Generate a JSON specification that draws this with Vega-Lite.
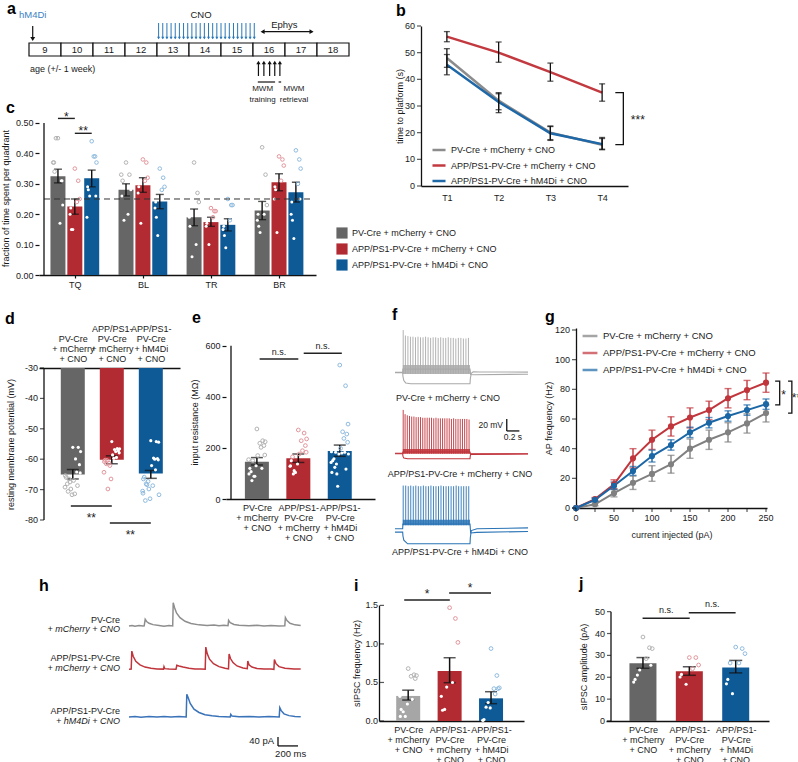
{
"$schema":"https://vega.github.io/schema/vega-lite/v6.json",
"padding":{"left":1,"top":1,"right":1,"bottom":1},
"config":{"font":"Liberation Sans","view":{"stroke":null},
"axis":{"labelFontSize":9,"labelColor":"#1a1a1a","titleFontSize":9,"titleFontWeight":"normal","titleColor":"#1a1a1a","domainColor":"#111111","domainWidth":1.3,"tickColor":"#111111","tickWidth":1.2,"tickSize":4,"grid":false,"labelPadding":2,"titlePadding":5,"labelFlush":false,"labelOverlap":false,"labelLineHeight":10},
"legend":{"labelFontSize":9,"labelColor":"#1a1a1a","labelLimit":300,"padding":0},
"text":{"fontSize":9,"color":"#1a1a1a"}},
"datasets":{
"aweek":[{"age":9},{"age":10},{"age":11},{"age":12},{"age":13},{"age":14},{"age":15},{"age":16},{"age":17},{"age":18}],
"cno":[{"age":12.55},{"age":12.68},{"age":12.81},{"age":12.94},{"age":13.07},{"age":13.2},{"age":13.33},{"age":13.46},{"age":13.59},{"age":13.72},{"age":13.85},{"age":13.98},{"age":14.11},{"age":14.24},{"age":14.37},{"age":14.5},{"age":14.63},{"age":14.76},{"age":14.89},{"age":15.02},{"age":15.15},{"age":15.28},{"age":15.41},{"age":15.54}],
"mwm":[{"age":15.67},{"age":15.84},{"age":16.02},{"age":16.18},{"age":16.34}],
"atext":[{"x":8.616,"y":3.45,"t":"hM4Di","s":9.5},{"x":13.875,"y":3.45,"t":"CNO","s":9.5},{"x":16.48,"y":2.45,"t":"Ephys","s":9.5},{"x":15.8,"y":-3.98,"t":"MWM","s":8},{"x":15.8,"y":-5.02,"t":"training","s":8},{"x":16.78,"y":-3.98,"t":"MWM","s":8},{"x":16.78,"y":-5.02,"t":"retrieval","s":8}],
"cbar":[{"k":"TQ-WT","q":"TQ","g":"WT","m":0.325,"lo":0.303,"hi":0.348},{"k":"TQ-AD","q":"TQ","g":"AD","m":0.225,"lo":0.2,"hi":0.25},{"k":"TQ-ADi","q":"TQ","g":"ADi","m":0.318,"lo":0.29,"hi":0.345},{"k":"BL-WT","q":"BL","g":"WT","m":0.28,"lo":0.26,"hi":0.3},{"k":"BL-AD","q":"BL","g":"AD","m":0.295,"lo":0.272,"hi":0.32},{"k":"BL-ADi","q":"BL","g":"ADi","m":0.242,"lo":0.218,"hi":0.265},{"k":"TR-WT","q":"TR","g":"WT","m":0.19,"lo":0.162,"hi":0.217},{"k":"TR-AD","q":"TR","g":"AD","m":0.174,"lo":0.16,"hi":0.19},{"k":"TR-ADi","q":"TR","g":"ADi","m":0.165,"lo":0.145,"hi":0.185},{"k":"BR-WT","q":"BR","g":"WT","m":0.212,"lo":0.182,"hi":0.242},{"k":"BR-AD","q":"BR","g":"AD","m":0.305,"lo":0.277,"hi":0.333},{"k":"BR-ADi","q":"BR","g":"ADi","m":0.272,"lo":0.24,"hi":0.305}],
"cdot":[{"k":"TQ-WT","v":0.45},{"k":"TQ-WT","v":0.37},{"k":"TQ-WT","v":0.31},{"k":"TQ-WT","v":0.45},{"k":"TQ-WT","v":0.23},{"k":"TQ-WT","v":0.37},{"k":"TQ-WT","v":0.17},{"k":"TQ-WT","v":0.34},{"k":"TQ-WT","v":0.31},
{"k":"TQ-AD","v":0.35},{"k":"TQ-AD","v":0.22},{"k":"TQ-AD","v":0.31},{"k":"TQ-AD","v":0.15},{"k":"TQ-AD","v":0.25},{"k":"TQ-AD","v":0.2},{"k":"TQ-AD","v":0.24},{"k":"TQ-AD","v":0.15},
{"k":"TQ-ADi","v":0.44},{"k":"TQ-ADi","v":0.29},{"k":"TQ-ADi","v":0.39},{"k":"TQ-ADi","v":0.26},{"k":"TQ-ADi","v":0.37},{"k":"TQ-ADi","v":0.19},{"k":"TQ-ADi","v":0.39},{"k":"TQ-ADi","v":0.28},{"k":"TQ-ADi","v":0.26},
{"k":"BL-WT","v":0.37},{"k":"BL-WT","v":0.26},{"k":"BL-WT","v":0.33},{"k":"BL-WT","v":0.18},{"k":"BL-WT","v":0.28},{"k":"BL-WT","v":0.33},{"k":"BL-WT","v":0.2},{"k":"BL-WT","v":0.31},
{"k":"BL-AD","v":0.38},{"k":"BL-AD","v":0.29},{"k":"BL-AD","v":0.37},{"k":"BL-AD","v":0.17},{"k":"BL-AD","v":0.32},{"k":"BL-AD","v":0.27},{"k":"BL-AD","v":0.31},
{"k":"BL-ADi","v":0.35},{"k":"BL-ADi","v":0.24},{"k":"BL-ADi","v":0.32},{"k":"BL-ADi","v":0.13},{"k":"BL-ADi","v":0.29},{"k":"BL-ADi","v":0.22},{"k":"BL-ADi","v":0.28},{"k":"BL-ADi","v":0.19},
{"k":"TR-WT","v":0.37},{"k":"TR-WT","v":0.16},{"k":"TR-WT","v":0.27},{"k":"TR-WT","v":0.06},{"k":"TR-WT","v":0.24},{"k":"TR-WT","v":0.19},{"k":"TR-WT","v":0.1},
{"k":"TR-AD","v":0.22},{"k":"TR-AD","v":0.17},{"k":"TR-AD","v":0.21},{"k":"TR-AD","v":0.1},{"k":"TR-AD","v":0.21},{"k":"TR-AD","v":0.16},{"k":"TR-AD","v":0.19},
{"k":"TR-ADi","v":0.25},{"k":"TR-ADi","v":0.16},{"k":"TR-ADi","v":0.23},{"k":"TR-ADi","v":0.09},{"k":"TR-ADi","v":0.23},{"k":"TR-ADi","v":0.15},{"k":"TR-ADi","v":0.18},{"k":"TR-ADi","v":0.13},
{"k":"BR-WT","v":0.42},{"k":"BR-WT","v":0.2},{"k":"BR-WT","v":0.33},{"k":"BR-WT","v":0.14},{"k":"BR-WT","v":0.23},{"k":"BR-WT","v":0.18},{"k":"BR-WT","v":0.2},{"k":"BR-WT","v":0.16},
{"k":"BR-AD","v":0.39},{"k":"BR-AD","v":0.29},{"k":"BR-AD","v":0.38},{"k":"BR-AD","v":0.14},{"k":"BR-AD","v":0.36},{"k":"BR-AD","v":0.25},{"k":"BR-AD","v":0.31},{"k":"BR-AD","v":0.28},
{"k":"BR-ADi","v":0.41},{"k":"BR-ADi","v":0.24},{"k":"BR-ADi","v":0.38},{"k":"BR-ADi","v":0.12},{"k":"BR-ADi","v":0.35},{"k":"BR-ADi","v":0.2},{"k":"BR-ADi","v":0.3},{"k":"BR-ADi","v":0.18},{"k":"BR-ADi","v":0.25}],
"csig":[{"x1":0.252,"x2":0.5,"y":0.515,"ty":0.531,"lab":"*"},{"x1":0.5,"x2":0.748,"y":0.466,"ty":0.483,"lab":"**"}],
"bdat":[{"g":"WT","trial":1,"m":48,"lo":44.5,"hi":51.5},{"g":"WT","trial":2,"m":32,"lo":28.6,"hi":35},{"g":"WT","trial":3,"m":20,"lo":17.4,"hi":22.5},{"g":"WT","trial":4,"m":15.5,"lo":13.6,"hi":17.8},
{"g":"AD","trial":1,"m":56,"lo":54.1,"hi":57.9},{"g":"AD","trial":2,"m":50,"lo":46.4,"hi":54},{"g":"AD","trial":3,"m":42.7,"lo":39.3,"hi":46.1},{"g":"AD","trial":4,"m":35,"lo":31.8,"hi":38.3},
{"g":"ADi","trial":1,"m":45.5,"lo":41.7,"hi":49.3},{"g":"ADi","trial":2,"m":31.5,"lo":27.5,"hi":34.6},{"g":"ADi","trial":3,"m":19.8,"lo":17.1,"hi":22.3},{"g":"ADi","trial":4,"m":15.7,"lo":13.8,"hi":18.2}],
"dbar":[{"g":"WT","m":-65,"lo":-66.5,"hi":-63.4},{"g":"AD","m":-60.2,"lo":-61.5,"hi":-58.9},{"g":"ADi","m":-64.7,"lo":-66.3,"hi":-63.7}],
"ddot":[{"g":"WT","v":-56.1},{"g":"WT","v":-66},{"g":"WT","v":-56.1},{"g":"WT","v":-67.5},{"g":"WT","v":-57.5},{"g":"WT","v":-69.2},{"g":"WT","v":-59.9},{"g":"WT","v":-70.6},{"g":"WT","v":-61.8},{"g":"WT","v":-71.7},{"g":"WT","v":-64.2},{"g":"WT","v":-65.4},{"g":"WT","v":-64.5},{"g":"WT","v":-66.5},{"g":"WT","v":-67},{"g":"WT","v":-68.1},{"g":"WT","v":-68.7},{"g":"WT","v":-69.8},{"g":"WT","v":-71.4},
{"g":"AD","v":-54.2},{"g":"AD","v":-60.3},{"g":"AD","v":-56.5},{"g":"AD","v":-61.3},{"g":"AD","v":-56.6},{"g":"AD","v":-64.3},{"g":"AD","v":-56.8},{"g":"AD","v":-60.4},{"g":"AD","v":-57.2},{"g":"AD","v":-66.5},{"g":"AD","v":-57.5},{"g":"AD","v":-60.8},{"g":"AD","v":-57.9},{"g":"AD","v":-69.8},{"g":"AD","v":-58.6},{"g":"AD","v":-61.5},{"g":"AD","v":-59.4},{"g":"AD","v":-62.1},{"g":"AD","v":-59.7},
{"g":"ADi","v":-53.9},{"g":"ADi","v":-65.9},{"g":"ADi","v":-54.2},{"g":"ADi","v":-67.3},{"g":"ADi","v":-54.4},{"g":"ADi","v":-71.2},{"g":"ADi","v":-59.6},{"g":"ADi","v":-68.1},{"g":"ADi","v":-59.8},{"g":"ADi","v":-73},{"g":"ADi","v":-60},{"g":"ADi","v":-66.5},{"g":"ADi","v":-60.2},{"g":"ADi","v":-68.4},{"g":"ADi","v":-62.1},{"g":"ADi","v":-73.6},{"g":"ADi","v":-63.5},{"g":"ADi","v":-69.8},{"g":"ADi","v":-68.7},{"g":"ADi","v":-70.5},{"g":"ADi","v":-71.7}],
"dsig":[{"x1":0.95,"x2":2,"y":-75.4,"ty":-78.4,"lab":"**"},{"x1":1.95,"x2":3,"y":-81,"ty":-84,"lab":"**"}],
"ebar":[{"g":"WT","m":146,"lo":133,"hi":162},{"g":"AD","m":159,"lo":143,"hi":176},{"g":"ADi","m":188,"lo":167,"hi":211}],
"edot":[{"g":"WT","v":274},{"g":"WT","v":120},{"g":"WT","v":228},{"g":"WT","v":89},{"g":"WT","v":224},{"g":"WT","v":154},{"g":"WT","v":218},{"g":"WT","v":72},{"g":"WT","v":209},{"g":"WT","v":130},{"g":"WT","v":202},{"g":"WT","v":98},{"g":"WT","v":172},{"g":"WT","v":150},{"g":"WT","v":170},{"g":"WT","v":107},{"g":"WT","v":120},{"g":"WT","v":89},
{"g":"AD","v":270},{"g":"AD","v":150},{"g":"AD","v":258},{"g":"AD","v":104},{"g":"AD","v":235},{"g":"AD","v":128},{"g":"AD","v":228},{"g":"AD","v":98},{"g":"AD","v":209},{"g":"AD","v":137},{"g":"AD","v":189},{"g":"AD","v":130},{"g":"AD","v":183},{"g":"AD","v":111},{"g":"AD","v":176},{"g":"AD","v":165},
{"g":"ADi","v":524},{"g":"ADi","v":150},{"g":"ADi","v":443},{"g":"ADi","v":98},{"g":"ADi","v":293},{"g":"ADi","v":185},{"g":"ADi","v":263},{"g":"ADi","v":124},{"g":"ADi","v":254},{"g":"ADi","v":176},{"g":"ADi","v":237},{"g":"ADi","v":104},{"g":"ADi","v":222},{"g":"ADi","v":183},{"g":"ADi","v":198},{"g":"ADi","v":157},{"g":"ADi","v":183},{"g":"ADi","v":50},{"g":"ADi","v":180},{"g":"ADi","v":143},{"g":"ADi","v":176},{"g":"ADi","v":137},{"g":"ADi","v":117}],
"esig":[{"x1":1.066,"x2":2.0,"y":548,"ty":577,"lab":"n.s."},{"x1":2.13,"x2":3.05,"y":570,"ty":597,"lab":"n.s."}],
"fband":[{"g":"WT","t0":0.125,"t1":1.19,"lo":-2,"hi":13},{"g":"AD","t0":0.125,"t1":1.19,"lo":0,"hi":8},{"g":"ADi","t0":0.125,"t1":1.19,"lo":6,"hi":15}],
"fsp":[{"g":"WT","t":0.13,"hi":71},{"g":"WT","t":0.165,"hi":62},{"g":"WT","t":0.205,"hi":61},{"g":"WT","t":0.245,"hi":60},{"g":"WT","t":0.285,"hi":60},{"g":"WT","t":0.325,"hi":59},{"g":"WT","t":0.365,"hi":60},{"g":"WT","t":0.405,"hi":59},{"g":"WT","t":0.445,"hi":59},{"g":"WT","t":0.485,"hi":60},{"g":"WT","t":0.525,"hi":59},{"g":"WT","t":0.565,"hi":58},{"g":"WT","t":0.605,"hi":59},{"g":"WT","t":0.645,"hi":59},{"g":"WT","t":0.685,"hi":58},{"g":"WT","t":0.725,"hi":59},{"g":"WT","t":0.765,"hi":58},{"g":"WT","t":0.805,"hi":58},{"g":"WT","t":0.845,"hi":59},{"g":"WT","t":0.885,"hi":58},{"g":"WT","t":0.925,"hi":58},{"g":"WT","t":0.965,"hi":57},{"g":"WT","t":1.005,"hi":58},{"g":"WT","t":1.045,"hi":58},{"g":"WT","t":1.085,"hi":57},{"g":"WT","t":1.125,"hi":57},{"g":"WT","t":1.165,"hi":58},
{"g":"AD","t":0.13,"hi":73},{"g":"AD","t":0.16,"hi":66},{"g":"AD","t":0.195,"hi":64},{"g":"AD","t":0.23,"hi":63},{"g":"AD","t":0.265,"hi":62},{"g":"AD","t":0.3,"hi":62},{"g":"AD","t":0.335,"hi":61},{"g":"AD","t":0.37,"hi":61},{"g":"AD","t":0.405,"hi":61},{"g":"AD","t":0.44,"hi":60},{"g":"AD","t":0.475,"hi":60},{"g":"AD","t":0.51,"hi":60},{"g":"AD","t":0.545,"hi":60},{"g":"AD","t":0.58,"hi":60},{"g":"AD","t":0.615,"hi":59},{"g":"AD","t":0.65,"hi":60},{"g":"AD","t":0.685,"hi":59},{"g":"AD","t":0.72,"hi":59},{"g":"AD","t":0.755,"hi":59},{"g":"AD","t":0.79,"hi":59},{"g":"AD","t":0.825,"hi":59},{"g":"AD","t":0.86,"hi":59},{"g":"AD","t":0.895,"hi":58},{"g":"AD","t":0.93,"hi":59},{"g":"AD","t":0.965,"hi":58},{"g":"AD","t":1.0,"hi":58},{"g":"AD","t":1.035,"hi":58},{"g":"AD","t":1.07,"hi":58},{"g":"AD","t":1.105,"hi":58},{"g":"AD","t":1.14,"hi":58},{"g":"AD","t":1.175,"hi":57},
{"g":"ADi","t":0.13,"hi":72},{"g":"ADi","t":0.17,"hi":72},{"g":"ADi","t":0.21,"hi":71},{"g":"ADi","t":0.25,"hi":72},{"g":"ADi","t":0.29,"hi":71},{"g":"ADi","t":0.33,"hi":72},{"g":"ADi","t":0.37,"hi":71},{"g":"ADi","t":0.41,"hi":71},{"g":"ADi","t":0.45,"hi":72},{"g":"ADi","t":0.49,"hi":71},{"g":"ADi","t":0.53,"hi":71},{"g":"ADi","t":0.57,"hi":72},{"g":"ADi","t":0.61,"hi":71},{"g":"ADi","t":0.65,"hi":71},{"g":"ADi","t":0.69,"hi":71},{"g":"ADi","t":0.73,"hi":72},{"g":"ADi","t":0.77,"hi":71},{"g":"ADi","t":0.81,"hi":71},{"g":"ADi","t":0.85,"hi":71},{"g":"ADi","t":0.89,"hi":71},{"g":"ADi","t":0.93,"hi":71},{"g":"ADi","t":0.97,"hi":72},{"g":"ADi","t":1.01,"hi":71},{"g":"ADi","t":1.05,"hi":71},{"g":"ADi","t":1.09,"hi":71},{"g":"ADi","t":1.13,"hi":71},{"g":"ADi","t":1.17,"hi":71}],
"ftr":[{"g":"WT","id":"WT-h","t":0,"v":0},{"g":"WT","id":"WT-h","t":0.122,"v":0},{"g":"WT","id":"WT-h","t":0.126,"v":-6},{"g":"WT","id":"WT-h","t":0.14,"v":-13},{"g":"WT","id":"WT-h","t":0.17,"v":-17},{"g":"WT","id":"WT-h","t":0.25,"v":-18.3},{"g":"WT","id":"WT-h","t":1.19,"v":-18.3},{"g":"WT","id":"WT-h","t":1.195,"v":-10},{"g":"WT","id":"WT-h","t":1.21,"v":-1},{"g":"WT","id":"WT-h","t":1.24,"v":1.5},{"g":"WT","id":"WT-h","t":1.35,"v":1.2},{"g":"WT","id":"WT-h","t":2.11,"v":1},
{"g":"WT","id":"WT-d","t":0,"v":0.5},{"g":"WT","id":"WT-d","t":0.122,"v":0.5},{"g":"WT","id":"WT-d","t":0.125,"v":6},{"g":"WT","id":"WT-d","t":1.19,"v":6},{"g":"WT","id":"WT-d","t":1.2,"v":-3},{"g":"WT","id":"WT-d","t":1.25,"v":-3.3},{"g":"WT","id":"WT-d","t":2.11,"v":-2.5},
{"g":"AD","id":"AD-h","t":0,"v":0},{"g":"AD","id":"AD-h","t":0.122,"v":0},{"g":"AD","id":"AD-h","t":0.126,"v":-4},{"g":"AD","id":"AD-h","t":0.14,"v":-7},{"g":"AD","id":"AD-h","t":0.2,"v":-8.3},{"g":"AD","id":"AD-h","t":1.19,"v":-8.3},{"g":"AD","id":"AD-h","t":1.195,"v":-3},{"g":"AD","id":"AD-h","t":1.21,"v":0},{"g":"AD","id":"AD-h","t":2.11,"v":0},
{"g":"AD","id":"AD-d","t":0,"v":0.8},{"g":"AD","id":"AD-d","t":0.122,"v":0.8},{"g":"AD","id":"AD-d","t":0.125,"v":3},{"g":"AD","id":"AD-d","t":1.19,"v":3},{"g":"AD","id":"AD-d","t":1.2,"v":-1},{"g":"AD","id":"AD-d","t":2.11,"v":-0.5},
{"g":"ADi","id":"ADi-h","t":0,"v":-5.5},{"g":"ADi","id":"ADi-h","t":0.122,"v":-5.5},{"g":"ADi","id":"ADi-h","t":0.126,"v":-12},{"g":"ADi","id":"ADi-h","t":0.14,"v":-19},{"g":"ADi","id":"ADi-h","t":0.2,"v":-25},{"g":"ADi","id":"ADi-h","t":1.19,"v":-25},{"g":"ADi","id":"ADi-h","t":1.195,"v":-15},{"g":"ADi","id":"ADi-h","t":1.21,"v":-3},{"g":"ADi","id":"ADi-h","t":1.3,"v":0},{"g":"ADi","id":"ADi-h","t":2.11,"v":1.5},
{"g":"ADi","id":"ADi-d","t":0,"v":0},{"g":"ADi","id":"ADi-d","t":0.122,"v":0},{"g":"ADi","id":"ADi-d","t":0.125,"v":8},{"g":"ADi","id":"ADi-d","t":1.19,"v":8},{"g":"ADi","id":"ADi-d","t":1.2,"v":-7},{"g":"ADi","id":"ADi-d","t":1.3,"v":-6},{"g":"ADi","id":"ADi-d","t":2.11,"v":-4.5}],
"ftext":[{"t":0.84,"y":-42,"lab":"PV-Cre + mCherry + CNO"},{"t":1.03,"y":-168,"lab":"APP/PS1-PV-Cre + mCherry + CNO"},{"t":1.03,"y":-298,"lab":"APP/PS1-PV-Cre + hM4Di + CNO"}],
"gdat":[{"g":"WT","x":0,"m":0,"lo":0,"hi":0},{"g":"WT","x":25,"m":2.5,"lo":1.5,"hi":3.5},{"g":"WT","x":50,"m":10,"lo":7.5,"hi":12.5},{"g":"WT","x":75,"m":17,"lo":12.5,"hi":21.5},{"g":"WT","x":100,"m":23,"lo":18,"hi":28.5},{"g":"WT","x":125,"m":29.5,"lo":23.5,"hi":35.5},{"g":"WT","x":150,"m":40,"lo":33.5,"hi":46.5},{"g":"WT","x":175,"m":46,"lo":39.5,"hi":52.5},{"g":"WT","x":200,"m":51,"lo":44.5,"hi":57.5},{"g":"WT","x":225,"m":57,"lo":50.5,"hi":63.5},{"g":"WT","x":250,"m":64,"lo":58,"hi":69.5},
{"g":"AD","x":0,"m":0,"lo":0,"hi":0},{"g":"AD","x":25,"m":6,"lo":5,"hi":7},{"g":"AD","x":50,"m":16,"lo":13,"hi":19},{"g":"AD","x":75,"m":33.5,"lo":27,"hi":40},{"g":"AD","x":100,"m":46,"lo":39.5,"hi":52.5},{"g":"AD","x":125,"m":55,"lo":48.5,"hi":61.5},{"g":"AD","x":150,"m":61,"lo":54,"hi":67.5},{"g":"AD","x":175,"m":66,"lo":59.5,"hi":72},{"g":"AD","x":200,"m":74,"lo":67.5,"hi":80.5},{"g":"AD","x":225,"m":79.5,"lo":73,"hi":86},{"g":"AD","x":250,"m":84.5,"lo":78,"hi":91},
{"g":"ADi","x":0,"m":0,"lo":0,"hi":0},{"g":"ADi","x":25,"m":5.5,"lo":4.5,"hi":6.5},{"g":"ADi","x":50,"m":15,"lo":12.5,"hi":17.5},{"g":"ADi","x":75,"m":25,"lo":22,"hi":28},{"g":"ADi","x":100,"m":35,"lo":31,"hi":39},{"g":"ADi","x":125,"m":42.5,"lo":39,"hi":46},{"g":"ADi","x":150,"m":51,"lo":47.5,"hi":54.5},{"g":"ADi","x":175,"m":57.5,"lo":54,"hi":61},{"g":"ADi","x":200,"m":62,"lo":58.5,"hi":65.5},{"g":"ADi","x":225,"m":66,"lo":62.5,"hi":69.5},{"g":"ADi","x":250,"m":70,"lo":66.5,"hi":73.5}],
"gbr":[{"id":1,"o":1,"x":262,"y":85.5},{"id":1,"o":2,"x":268,"y":85.5},{"id":1,"o":3,"x":268,"y":69.5},{"id":1,"o":4,"x":262,"y":69.5},{"id":2,"o":1,"x":279,"y":85.5},{"id":2,"o":2,"x":284,"y":85.5},{"id":2,"o":3,"x":284,"y":64},{"id":2,"o":4,"x":279,"y":64}],
"htr":[{"g":"WT","t":0,"a":0},{"g":"WT","t":30,"a":2},{"g":"WT","t":60,"a":-1},{"g":"WT","t":100,"a":2},{"g":"WT","t":140,"a":0},{"g":"WT","t":152,"a":1},{"g":"WT","t":162,"a":30},{"g":"WT","t":176,"a":20},{"g":"WT","t":200,"a":12},{"g":"WT","t":240,"a":6},{"g":"WT","t":300,"a":2},{"g":"WT","t":350,"a":-1},{"g":"WT","t":400,"a":2},{"g":"WT","t":437,"a":0},{"g":"WT","t":442,"a":103},{"g":"WT","t":455,"a":82},{"g":"WT","t":475,"a":58},{"g":"WT","t":510,"a":37},{"g":"WT","t":560,"a":21},{"g":"WT","t":620,"a":11},{"g":"WT","t":700,"a":5},{"g":"WT","t":780,"a":2},{"g":"WT","t":850,"a":4},{"g":"WT","t":900,"a":1},{"g":"WT","t":950,"a":3},{"g":"WT","t":990,"a":1},{"g":"WT","t":996,"a":25},{"g":"WT","t":1012,"a":15},{"g":"WT","t":1050,"a":7},{"g":"WT","t":1100,"a":3},{"g":"WT","t":1200,"a":1},{"g":"WT","t":1280,"a":3},{"g":"WT","t":1350,"a":0},{"g":"WT","t":1420,"a":2},{"g":"WT","t":1500,"a":0},{"g":"WT","t":1558,"a":1},{"g":"WT","t":1564,"a":37},{"g":"WT","t":1580,"a":24},{"g":"WT","t":1610,"a":12},{"g":"WT","t":1660,"a":5},{"g":"WT","t":1717,"a":2},
{"g":"AD","t":0,"a":0},{"g":"AD","t":22,"a":1},{"g":"AD","t":28,"a":81},{"g":"AD","t":42,"a":58},{"g":"AD","t":68,"a":36},{"g":"AD","t":110,"a":20},{"g":"AD","t":160,"a":10},{"g":"AD","t":220,"a":5},{"g":"AD","t":280,"a":2},{"g":"AD","t":345,"a":1},{"g":"AD","t":350,"a":12},{"g":"AD","t":358,"a":3},{"g":"AD","t":400,"a":1},{"g":"AD","t":470,"a":0},{"g":"AD","t":478,"a":18},{"g":"AD","t":500,"a":15},{"g":"AD","t":540,"a":10},{"g":"AD","t":600,"a":5},{"g":"AD","t":660,"a":2},{"g":"AD","t":720,"a":1},{"g":"AD","t":762,"a":0},{"g":"AD","t":768,"a":99},{"g":"AD","t":782,"a":70},{"g":"AD","t":805,"a":45},{"g":"AD","t":845,"a":25},{"g":"AD","t":900,"a":12},{"g":"AD","t":960,"a":5},{"g":"AD","t":995,"a":2},{"g":"AD","t":1001,"a":68},{"g":"AD","t":1015,"a":48},{"g":"AD","t":1040,"a":30},{"g":"AD","t":1080,"a":15},{"g":"AD","t":1140,"a":6},{"g":"AD","t":1183,"a":3},{"g":"AD","t":1188,"a":37},{"g":"AD","t":1200,"a":20},{"g":"AD","t":1230,"a":10},{"g":"AD","t":1280,"a":4},{"g":"AD","t":1350,"a":2},{"g":"AD","t":1420,"a":1},{"g":"AD","t":1449,"a":0},{"g":"AD","t":1454,"a":44},{"g":"AD","t":1470,"a":25},{"g":"AD","t":1500,"a":12},{"g":"AD","t":1560,"a":5},{"g":"AD","t":1650,"a":2},{"g":"AD","t":1717,"a":1},
{"g":"ADi","t":0,"a":0},{"g":"ADi","t":60,"a":2},{"g":"ADi","t":120,"a":-1},{"g":"ADi","t":200,"a":2},{"g":"ADi","t":280,"a":0},{"g":"ADi","t":350,"a":2},{"g":"ADi","t":420,"a":0},{"g":"ADi","t":500,"a":2},{"g":"ADi","t":572,"a":0},{"g":"ADi","t":578,"a":101},{"g":"ADi","t":592,"a":85},{"g":"ADi","t":612,"a":60},{"g":"ADi","t":650,"a":35},{"g":"ADi","t":700,"a":20},{"g":"ADi","t":760,"a":10},{"g":"ADi","t":830,"a":5},{"g":"ADi","t":900,"a":2},{"g":"ADi","t":960,"a":1},{"g":"ADi","t":1012,"a":0},{"g":"ADi","t":1018,"a":12},{"g":"ADi","t":1030,"a":4},{"g":"ADi","t":1100,"a":1},{"g":"ADi","t":1200,"a":2},{"g":"ADi","t":1300,"a":0},{"g":"ADi","t":1400,"a":2},{"g":"ADi","t":1502,"a":0},{"g":"ADi","t":1508,"a":41},{"g":"ADi","t":1522,"a":28},{"g":"ADi","t":1550,"a":14},{"g":"ADi","t":1600,"a":6},{"g":"ADi","t":1660,"a":2},{"g":"ADi","t":1717,"a":1}],
"hlab":[{"ln":1,"y":25,"t":"PV-Cre"},{"ln":2,"y":-15,"t":"+ mCherry + CNO"},{"ln":1,"y":-141,"t":"APP/PS1-PV-Cre"},{"ln":2,"y":-185,"t":"+ mCherry + CNO"},{"ln":1,"y":-378,"t":"APP/PS1-PV-Cre"},{"ln":2,"y":-422,"t":"+ hM4Di + CNO"}],
"ibar":[{"g":"WT","m":0.325,"lo":0.272,"hi":0.4},{"g":"AD","m":0.648,"lo":0.497,"hi":0.821},{"g":"ADi","m":0.294,"lo":0.225,"hi":0.38}],
"idot":[{"g":"WT","v":0.68},{"g":"WT","v":0.15},{"g":"WT","v":0.6},{"g":"WT","v":0.06},{"g":"WT","v":0.59},{"g":"WT","v":0.32},{"g":"WT","v":0.58},{"g":"WT","v":0.12},{"g":"WT","v":0.55},{"g":"WT","v":0.22},{"g":"WT","v":0.28},{"g":"WT","v":0.06},
{"g":"AD","v":1.47},{"g":"AD","v":0.14},{"g":"AD","v":1.33},{"g":"AD","v":0.44},{"g":"AD","v":1.02},{"g":"AD","v":0.32},{"g":"AD","v":0.5},{"g":"AD","v":0.15},
{"g":"ADi","v":0.94},{"g":"ADi","v":0.02},{"g":"ADi","v":0.59},{"g":"ADi","v":0.24},{"g":"ADi","v":0.43},{"g":"ADi","v":0.01},{"g":"ADi","v":0.42},{"g":"ADi","v":0.18},{"g":"ADi","v":0.42},{"g":"ADi","v":0.17},{"g":"ADi","v":0.35},{"g":"ADi","v":0.01}],
"isig":[{"x1":0.904,"x2":2.005,"y":1.57,"ty":1.69,"lab":"*"},{"x1":1.989,"x2":3.0,"y":1.66,"ty":1.76,"lab":"*"}],
"jbar":[{"g":"WT","m":26.4,"lo":24.1,"hi":29},{"g":"AD","m":22.7,"lo":20.9,"hi":24.8},{"g":"ADi","m":24.5,"lo":22,"hi":27.7}],
"jdot":[{"g":"WT","v":38.4},{"g":"WT","v":19},{"g":"WT","v":33.5},{"g":"WT","v":23.3},{"g":"WT","v":33.1},{"g":"WT","v":17.8},{"g":"WT","v":28.5},{"g":"WT","v":21},{"g":"WT","v":25.5},
{"g":"AD","v":29},{"g":"AD","v":21.3},{"g":"AD","v":29},{"g":"AD","v":16.8},{"g":"AD","v":25.6},{"g":"AD","v":20.1},{"g":"AD","v":23.9},
{"g":"ADi","v":33.8},{"g":"ADi","v":19},{"g":"ADi","v":33.1},{"g":"ADi","v":12.5},{"g":"ADi","v":30.8},{"g":"ADi","v":17},{"g":"ADi","v":26.5},{"g":"ADi","v":26.5}],
"jsig":[{"x1":0.992,"x2":2.008,"y":47,"ty":50.8,"lab":"n.s."},{"x1":1.988,"x2":2.998,"y":49.5,"ty":53.3,"lab":"n.s."}],
"bticks":[{"v":0},{"v":10},{"v":20},{"v":30},{"v":40},{"v":50},{"v":60}],
"dticks":[{"v":-80},{"v":-70},{"v":-60},{"v":-50},{"v":-40},{"v":-30}],
"gyticks":[{"v":0},{"v":20},{"v":40},{"v":60},{"v":80},{"v":100},{"v":120}],
"gxticks":[{"v":0},{"v":25},{"v":50},{"v":75},{"v":100},{"v":125},{"v":150},{"v":175},{"v":200},{"v":225},{"v":250}],
"iticks":[{"v":0},{"v":0.5},{"v":1},{"v":1.5}],
"jticks":[{"v":0},{"v":10},{"v":20},{"v":30},{"v":40},{"v":50}]
},
"spacing":18,
"resolve":{"scale":{"color":"independent","stroke":"independent"},"legend":{"color":"independent","stroke":"independent"}},
"vconcat":[
{"spacing":0,"bounds":"flush","resolve":{"scale":{"color":"independent","stroke":"independent"},"legend":{"color":"independent","stroke":"independent"}},
"hconcat":[
{"width":277,"height":249,
"resolve":{"scale":{"x":"independent","y":"independent"},"axis":{"x":"independent","y":"independent"}},
"layer":[
{"layer":[
{"data":{"name":"cbar"},"transform":[{"calculate":"indexof(['TQ','BL','TR','BR'],datum.q)+0.5+(datum.g=='WT'?-0.248:datum.g=='AD'?0:0.248)","as":"p"}],
"mark":{"type":"bar","size":15,"orient":"vertical"},
"encoding":{"x":{"field":"p","type":"quantitative","scale":{"domain":[0.047,3.97],"nice":false,"zero":false},"axis":{"values":[0.5,1.5,2.5,3.5],"labelExpr":"['TQ','BL','TR','BR'][floor(datum.value)]","title":null,"tickSize":3,"labelOverlap":false}},
"y":{"field":"m","type":"quantitative","stack":null,"scale":{"domain":[0,0.819],"nice":false,"zero":false},"axis":{"values":[0,0.1,0.2,0.3,0.4,0.5],"format":".2f","title":"fraction of time spent per quadrant","titleY":172,"domain":false,"labelOverlap":false}},
"color":{"field":"g","type":"nominal","scale":{"domain":["WT","AD","ADi"],"range":["#666666","#b22b32","#0d5a97"]},"legend":{"orient":"none","legendX":297,"legendY":201,"title":null,"symbolType":"square","symbolSize":125,"symbolStrokeWidth":0,"rowPadding":4,"labelExpr":"datum.label=='WT'?'PV-Cre + mCherry + CNO':datum.label=='AD'?'APP/PS1-PV-Cre + mCherry + CNO':'APP/PS1-PV-Cre + hM4Di + CNO'"}}}},
{"data":{"name":"cbar"},"transform":[{"calculate":"indexof(['TQ','BL','TR','BR'],datum.q)+0.5+(datum.g=='WT'?-0.248:datum.g=='AD'?0:0.248)","as":"p"}],
"mark":{"type":"rule","color":"#111111","strokeWidth":1.4},"encoding":{"x":{"field":"p","type":"quantitative"},"y":{"field":"lo","type":"quantitative"},"y2":{"field":"hi"}}},
{"data":{"name":"cbar"},"transform":[{"calculate":"indexof(['TQ','BL','TR','BR'],datum.q)+0.5+(datum.g=='WT'?-0.248:datum.g=='AD'?0:0.248)","as":"p"},{"fold":["lo","hi"],"as":["w","e"]}],
"mark":{"type":"tick","orient":"horizontal","color":"#111111","size":8,"thickness":1.4},"encoding":{"x":{"field":"p","type":"quantitative"},"y":{"field":"e","type":"quantitative"}}},
{"data":{"name":"cdot"},"transform":[{"lookup":"k","from":{"data":{"name":"cbar"},"key":"k","fields":["q","g","m"]}},{"window":[{"op":"row_number","as":"r"}],"groupby":["k"]},{"calculate":"indexof(['TQ','BL','TR','BR'],datum.q)+0.5+(datum.g=='WT'?-0.248:datum.g=='AD'?0:0.248)+[0,-0.06,0.05,-0.03,0.07,-0.07,0.03,-0.05,0.06,-0.015][(datum.r-1)%10]","as":"p"},{"filter":"datum.v>datum.m"}],
"mark":{"type":"point","shape":"circle","filled":false,"strokeWidth":1,"size":13,"opacity":1},
"encoding":{"x":{"field":"p","type":"quantitative"},"y":{"field":"v","type":"quantitative"},"stroke":{"field":"g","type":"nominal","scale":{"domain":["WT","AD","ADi"],"range":["#b3b3b3","#e3959c","#8fbbdf"]},"legend":null}}},
{"data":{"name":"cdot"},"transform":[{"lookup":"k","from":{"data":{"name":"cbar"},"key":"k","fields":["q","g","m"]}},{"window":[{"op":"row_number","as":"r"}],"groupby":["k"]},{"calculate":"indexof(['TQ','BL','TR','BR'],datum.q)+0.5+(datum.g=='WT'?-0.248:datum.g=='AD'?0:0.248)+[0,-0.06,0.05,-0.03,0.07,-0.07,0.03,-0.05,0.06,-0.015][(datum.r-1)%10]","as":"p"},{"filter":"datum.v<=datum.m"}],
"mark":{"type":"circle","color":"white","size":9,"opacity":1},
"encoding":{"x":{"field":"p","type":"quantitative"},"y":{"field":"v","type":"quantitative"}}},
{"data":{"values":[{"chance":0.25,"a":0.047,"b":3.97}]},"mark":{"type":"rule","strokeDash":[6,4],"color":"#333333","strokeWidth":1},"encoding":{"y":{"field":"chance","type":"quantitative"},"x":{"field":"a","type":"quantitative"},"x2":{"field":"b"}}},
{"data":{"values":[{"x":0.047,"lo":0,"hi":0.5}]},"mark":{"type":"rule","color":"#111111","strokeWidth":1.3},"encoding":{"x":{"field":"x","type":"quantitative"},"y":{"field":"lo","type":"quantitative"},"y2":{"field":"hi"}}},
{"data":{"name":"csig"},"mark":{"type":"rule","color":"#222222","strokeWidth":1.4},"encoding":{"x":{"field":"x1","type":"quantitative"},"x2":{"field":"x2"},"y":{"field":"y","type":"quantitative"}}},
{"data":{"name":"csig"},"transform":[{"calculate":"(datum.x1+datum.x2)/2","as":"mx"}],"mark":{"type":"text","fontSize":12,"baseline":"middle","dy":3},"encoding":{"x":{"field":"mx","type":"quantitative"},"y":{"field":"ty","type":"quantitative"},"text":{"field":"lab"}}}
]},
{"layer":[
{"data":{"name":"aweek"},"transform":[{"calculate":"datum.age-0.5","as":"a0"},{"calculate":"datum.age+0.5","as":"a1"}],"mark":{"type":"rect","fill":"white","stroke":"#111111","strokeWidth":1.2},
"encoding":{"x":{"field":"a0","type":"quantitative","scale":{"domain":[8.8125,17.46875],"nice":false,"zero":false},"axis":null},"x2":{"field":"a1"},"y":{"datum":0.65,"type":"quantitative","scale":{"domain":[-22.55,2.35],"nice":false,"zero":false},"axis":null},"y2":{"datum":-0.65}}},
{"data":{"name":"aweek"},"mark":{"type":"text","fontSize":9.5,"baseline":"middle"},"encoding":{"x":{"field":"age","type":"quantitative","axis":null},"y":{"datum":0,"type":"quantitative","axis":null},"text":{"field":"age"}}},
{"data":{"name":"cno"},"mark":{"type":"rule","color":"#2a78b8","strokeWidth":1},"encoding":{"x":{"field":"age","type":"quantitative","axis":null},"y":{"datum":2.65,"type":"quantitative","axis":null},"y2":{"datum":1.1}}},
{"data":{"name":"cno"},"mark":{"type":"point","shape":"triangle-down","filled":true,"size":10,"color":"#2a78b8","opacity":1},"encoding":{"x":{"field":"age","type":"quantitative","axis":null},"y":{"datum":1.15,"type":"quantitative","axis":null}}},
{"data":{"values":[{"age":8.616}]},"mark":{"type":"rule","color":"#111111","strokeWidth":1.2},"encoding":{"x":{"field":"age","type":"quantitative","axis":null},"y":{"datum":2.35,"type":"quantitative","axis":null},"y2":{"datum":1.1}}},
{"data":{"values":[{"age":8.616}]},"mark":{"type":"point","shape":"triangle-down","filled":true,"size":24,"color":"#111111","opacity":1},"encoding":{"x":{"field":"age","type":"quantitative","axis":null},"y":{"datum":1.05,"type":"quantitative","axis":null}}},
{"data":{"values":[{"a0":15.78,"a1":17.35}]},"mark":{"type":"rule","color":"#111111","strokeWidth":1.2},"encoding":{"x":{"field":"a0","type":"quantitative","axis":null},"x2":{"field":"a1"},"y":{"datum":1.78,"type":"quantitative","axis":null}}},
{"data":{"values":[{"age":15.8,"d":"triangle-left"},{"age":17.33,"d":"triangle-right"}]},"mark":{"type":"point","filled":true,"size":22,"color":"#111111","opacity":1},"encoding":{"x":{"field":"age","type":"quantitative","axis":null},"y":{"datum":1.78,"type":"quantitative","axis":null},"shape":{"field":"d","type":"nominal","scale":null}}},
{"data":{"name":"mwm"},"mark":{"type":"rule","color":"#111111","strokeWidth":1.2},"encoding":{"x":{"field":"age","type":"quantitative","axis":null},"y":{"datum":-2.65,"type":"quantitative","axis":null},"y2":{"datum":-1.35}}},
{"data":{"name":"mwm"},"mark":{"type":"point","shape":"triangle-up","filled":true,"size":18,"color":"#111111","opacity":1},"encoding":{"x":{"field":"age","type":"quantitative","axis":null},"y":{"datum":-1.3,"type":"quantitative","axis":null}}},
{"data":{"values":[{"a0":15.65,"a1":16.19},{"a0":16.3,"a1":16.38}]},"mark":{"type":"rule","color":"#111111","strokeWidth":1.2},"encoding":{"x":{"field":"a0","type":"quantitative","axis":null},"x2":{"field":"a1"},"y":{"datum":-3.25,"type":"quantitative","axis":null}}},
{"data":{"name":"atext"},"mark":{"type":"text","baseline":"middle"},"encoding":{"x":{"field":"x","type":"quantitative","axis":null},"y":{"field":"y","type":"quantitative","axis":null},"text":{"field":"t"},"size":{"field":"s","type":"quantitative","scale":null},"color":{"condition":{"test":"datum.t=='hM4Di'","value":"#3b82c4"},"value":"#1a1a1a"}}},
{"data":{"values":[{"t":"age (+/- 1 week)"}]},"mark":{"type":"text","fontSize":9,"baseline":"middle","align":"left"},"encoding":{"x":{"datum":8.53,"type":"quantitative","axis":null},"y":{"datum":-1.95,"type":"quantitative","axis":null},"text":{"field":"t"}}},
{"data":{"values":[{"x":7.8125,"y":3.55,"lab":"a"},{"x":7.78,"y":-6.35,"lab":"c"}]},"mark":{"type":"text","fontSize":16,"fontWeight":"bold","align":"left","baseline":"alphabetic","color":"#000000"},"encoding":{"x":{"field":"x","type":"quantitative","axis":null},"y":{"field":"y","type":"quantitative","axis":null},"text":{"field":"lab"}}}
]}
]},
{"width":105,"height":10,"data":{"values":[]},"mark":{"type":"point","opacity":0}},
{"width":207,"height":160,"resolve":{"scale":{"x":"independent","y":"independent"},"axis":{"x":"independent","y":"independent"}},"layer":[
{"layer":[
{"data":{"name":"bdat"},"mark":{"type":"line","strokeWidth":2.5},
"encoding":{"x":{"field":"trial","type":"quantitative","scale":{"domain":[0.5,4.5],"nice":false,"zero":false},"axis":{"values":[1,1.5,2,2.5,3,3.5,4,4.5],"labelExpr":"datum.value%1==0?'T'+datum.value:''","tickOpacity":{"condition":{"test":"datum.value%1==0","value":0},"value":1},"title":null,"labelPadding":3,"labelOverlap":false}},
"y":{"field":"m","type":"quantitative","scale":{"domain":[0,60],"nice":false,"zero":false},"axis":{"labels":false,"ticks":false,"title":"time to platform (s)","titlePadding":17}},
"color":{"field":"g","type":"nominal","scale":{"domain":["WT","AD","ADi"],"range":["#8c8c8c","#c23a40","#1f68a8"]},"legend":{"orient":"none","legendX":10,"legendY":116,"title":null,"symbolType":"stroke","symbolStrokeWidth":2.5,"symbolSize":170,"rowPadding":2.5,"labelExpr":"datum.label=='WT'?'PV-Cre + mCherry + CNO':datum.label=='AD'?'APP/PS1-PV-Cre + mCherry + CNO':'APP/PS1-PV-Cre + hM4Di + CNO'"}}}},
{"data":{"name":"bdat"},"mark":{"type":"rule","color":"#111111","strokeWidth":1.3},"encoding":{"x":{"field":"trial","type":"quantitative"},"y":{"field":"lo","type":"quantitative"},"y2":{"field":"hi"}}},
{"data":{"name":"bdat"},"transform":[{"fold":["lo","hi"],"as":["w","e"]}],"mark":{"type":"tick","orient":"horizontal","color":"#111111","size":6,"thickness":1.3},"encoding":{"x":{"field":"trial","type":"quantitative"},"y":{"field":"e","type":"quantitative"}}},
{"data":{"values":[{"x":4.255,"y":35,"o":1},{"x":4.41,"y":35,"o":2},{"x":4.41,"y":15.5,"o":3},{"x":4.255,"y":15.5,"o":4}]},"mark":{"type":"line","color":"#111111","strokeWidth":1.3},"encoding":{"x":{"field":"x","type":"quantitative"},"y":{"field":"y","type":"quantitative"},"order":{"field":"o"}}},
{"data":{"values":[{"x":4.69,"y":25.75,"lab":"***"}]},"mark":{"type":"text","fontSize":12,"baseline":"middle","dy":3},"encoding":{"x":{"field":"x","type":"quantitative"},"y":{"field":"y","type":"quantitative"},"text":{"field":"lab"}}},
{"data":{"name":"bticks"},"transform":[{"calculate":"0.5","as":"x0"}],"mark":{"type":"tick","orient":"horizontal","size":4,"thickness":1.2,"color":"#111111","xOffset":-2},"encoding":{"x":{"field":"x0","type":"quantitative"},"y":{"field":"v","type":"quantitative"}}},
{"data":{"name":"bticks"},"transform":[{"calculate":"0.5","as":"x0"}],"mark":{"type":"text","align":"right","baseline":"middle","dx":-6,"fontSize":9},"encoding":{"x":{"field":"x0","type":"quantitative"},"y":{"field":"v","type":"quantitative"},"text":{"field":"v"}}}
]},
{"data":{"values":[{"x":-0.121,"y":1.0625,"lab":"b"}]},"mark":{"type":"text","fontSize":16,"fontWeight":"bold","align":"left","baseline":"alphabetic","color":"#000000"},"encoding":{"x":{"field":"x","type":"quantitative","scale":{"domain":[0,1],"nice":false,"zero":false},"axis":null},"y":{"field":"y","type":"quantitative","scale":{"domain":[0,1],"nice":false,"zero":false},"axis":null},"text":{"field":"lab"}}}
]}
]},
{"spacing":18,"resolve":{"scale":{"color":"independent","stroke":"independent"},"legend":{"color":"independent","stroke":"independent"}},
"vconcat":[
{"spacing":0,"bounds":"flush","resolve":{"scale":{"color":"independent","stroke":"independent"},"legend":{"color":"independent","stroke":"independent"}},
"hconcat":[
{"width":141,"height":192,"resolve":{"scale":{"x":"independent","y":"independent"},"axis":{"x":"independent","y":"independent"}},"layer":[
{"layer":[
{"data":{"name":"dbar"},"transform":[{"calculate":"indexof(['WT','AD','ADi'],datum.g)+1","as":"p"},{"calculate":"-30","as":"base"}],"mark":{"type":"bar","size":24,"orient":"vertical"},
"encoding":{"x":{"field":"p","type":"quantitative","scale":{"domain":[0.262,3.62],"nice":false,"zero":false},"axis":{"orient":"top","offset":-40,"values":[1,2,3],"labelExpr":"datum.value==1?['','PV-Cre','+ mCherry','+ CNO']:datum.value==2?['APP/PS1-','PV-Cre','+ mCherry','+ CNO']:['APP/PS1-','PV-Cre','+ hM4Di','+ CNO']","title":null,"ticks":false,"labelPadding":35,"labelOverlap":false}},
"y":{"field":"m","type":"quantitative","stack":null,"scale":{"domain":[-80,-16.84],"nice":false,"zero":false},"axis":{"labels":false,"ticks":false,"title":"resting membrane potential (mV)","titleY":116,"titlePadding":24,"domain":false}},
"y2":{"field":"base"},
"color":{"field":"g","type":"nominal","scale":{"domain":["WT","AD","ADi"],"range":["#666666","#b22b32","#0d5a97"]},"legend":null}}},
{"data":{"name":"dbar"},"transform":[{"calculate":"indexof(['WT','AD','ADi'],datum.g)+1","as":"p"}],"mark":{"type":"rule","color":"#111111","strokeWidth":1.5},"encoding":{"x":{"field":"p","type":"quantitative"},"y":{"field":"lo","type":"quantitative"},"y2":{"field":"hi"}}},
{"data":{"name":"dbar"},"transform":[{"calculate":"indexof(['WT','AD','ADi'],datum.g)+1","as":"p"},{"fold":["lo","hi"],"as":["w","e"]}],"mark":{"type":"tick","orient":"horizontal","color":"#111111","size":12,"thickness":1.5},"encoding":{"x":{"field":"p","type":"quantitative"},"y":{"field":"e","type":"quantitative"}}},
{"data":{"name":"ddot"},"transform":[{"lookup":"g","from":{"data":{"name":"dbar"},"key":"g","fields":["m"]}},{"window":[{"op":"row_number","as":"r"}],"groupby":["g"]},{"calculate":"indexof(['WT','AD','ADi'],datum.g)+1+[0,-0.17,0.14,-0.07,0.2,-0.2,0.07,-0.12,0.17,-0.02,0.1,-0.19,0.19,-0.1,0.02,-0.14,0.12,-0.05,0.05,-0.21,0.21,-0.08,0.15,-0.15][(datum.r-1)%24]","as":"p"},{"filter":"datum.v<datum.m"}],
"mark":{"type":"point","shape":"circle","filled":false,"strokeWidth":1,"size":14,"opacity":1},"encoding":{"x":{"field":"p","type":"quantitative"},"y":{"field":"v","type":"quantitative"},"stroke":{"field":"g","type":"nominal","scale":{"domain":["WT","AD","ADi"],"range":["#b3b3b3","#e3959c","#8fbbdf"]},"legend":null}}},
{"data":{"name":"ddot"},"transform":[{"lookup":"g","from":{"data":{"name":"dbar"},"key":"g","fields":["m"]}},{"window":[{"op":"row_number","as":"r"}],"groupby":["g"]},{"calculate":"indexof(['WT','AD','ADi'],datum.g)+1+[0,-0.17,0.14,-0.07,0.2,-0.2,0.07,-0.12,0.17,-0.02,0.1,-0.19,0.19,-0.1,0.02,-0.14,0.12,-0.05,0.05,-0.21,0.21,-0.08,0.15,-0.15][(datum.r-1)%24]","as":"p"},{"filter":"datum.v>=datum.m"}],
"mark":{"type":"circle","color":"white","size":10,"opacity":1},"encoding":{"x":{"field":"p","type":"quantitative"},"y":{"field":"v","type":"quantitative"}}},
{"data":{"values":[{"x":0.262,"lo":-80,"hi":-30}]},"mark":{"type":"rule","color":"#111111","strokeWidth":1.3},"encoding":{"x":{"field":"x","type":"quantitative"},"y":{"field":"lo","type":"quantitative"},"y2":{"field":"hi"}}},
{"data":{"name":"dticks"},"transform":[{"calculate":"0.262","as":"x0"}],"mark":{"type":"tick","orient":"horizontal","size":4,"thickness":1.2,"color":"#111111","xOffset":-2},"encoding":{"x":{"field":"x0","type":"quantitative"},"y":{"field":"v","type":"quantitative"}}},
{"data":{"name":"dticks"},"transform":[{"calculate":"0.262","as":"x0"}],"mark":{"type":"text","align":"right","baseline":"middle","dx":-6,"fontSize":9},"encoding":{"x":{"field":"x0","type":"quantitative"},"y":{"field":"v","type":"quantitative"},"text":{"field":"v"}}},
{"data":{"name":"dsig"},"mark":{"type":"rule","color":"#222222","strokeWidth":1.4},"encoding":{"x":{"field":"x1","type":"quantitative"},"x2":{"field":"x2"},"y":{"field":"y","type":"quantitative"}}},
{"data":{"name":"dsig"},"transform":[{"calculate":"(datum.x1+datum.x2)/2","as":"mx"}],"mark":{"type":"text","fontSize":12,"baseline":"middle","dy":3},"encoding":{"x":{"field":"mx","type":"quantitative"},"y":{"field":"ty","type":"quantitative"},"text":{"field":"lab"}}}
]},
{"data":{"values":[{"x":-0.241,"y":1.021,"lab":"d"}]},"mark":{"type":"text","fontSize":16,"fontWeight":"bold","align":"left","baseline":"alphabetic","color":"#000000"},"encoding":{"x":{"field":"x","type":"quantitative","scale":{"domain":[0,1],"nice":false,"zero":false},"axis":null},"y":{"field":"y","type":"quantitative","scale":{"domain":[0,1],"nice":false,"zero":false},"axis":null},"text":{"field":"lab"}}}
]},
{"width":46,"height":10,"data":{"values":[]},"mark":{"type":"point","opacity":0}},
{"width":149,"height":171,"resolve":{"scale":{"x":"independent","y":"independent"},"axis":{"x":"independent","y":"independent"}},"layer":[
{"layer":[
{"data":{"name":"ebar"},"transform":[{"calculate":"indexof(['WT','AD','ADi'],datum.g)+1","as":"p"}],"mark":{"type":"bar","size":24,"orient":"vertical"},
"encoding":{"x":{"field":"p","type":"quantitative","scale":{"domain":[0.375,3.73],"nice":false,"zero":false},"axis":{"values":[1,2,3],"labelExpr":"datum.value==1?['PV-Cre','+ mCherry','+ CNO']:datum.value==2?['APP/PS1-','PV-Cre','+ mCherry','+ CNO']:['APP/PS1-','PV-Cre','+ hM4Di','+ CNO']","title":null,"ticks":false,"labelPadding":4,"labelOverlap":false}},
"y":{"field":"m","type":"quantitative","stack":null,"scale":{"domain":[0,669],"nice":false,"zero":false},"axis":{"values":[0,200,400,600],"title":"input resistance (MΩ)","titleY":94,"domain":false,"labelOverlap":false}},
"color":{"field":"g","type":"nominal","scale":{"domain":["WT","AD","ADi"],"range":["#666666","#b22b32","#0d5a97"]},"legend":null}}},
{"data":{"name":"ebar"},"transform":[{"calculate":"indexof(['WT','AD','ADi'],datum.g)+1","as":"p"}],"mark":{"type":"rule","color":"#111111","strokeWidth":1.5},"encoding":{"x":{"field":"p","type":"quantitative"},"y":{"field":"lo","type":"quantitative"},"y2":{"field":"hi"}}},
{"data":{"name":"ebar"},"transform":[{"calculate":"indexof(['WT','AD','ADi'],datum.g)+1","as":"p"},{"fold":["lo","hi"],"as":["w","e"]}],"mark":{"type":"tick","orient":"horizontal","color":"#111111","size":12,"thickness":1.5},"encoding":{"x":{"field":"p","type":"quantitative"},"y":{"field":"e","type":"quantitative"}}},
{"data":{"name":"edot"},"transform":[{"lookup":"g","from":{"data":{"name":"ebar"},"key":"g","fields":["m"]}},{"window":[{"op":"row_number","as":"r"}],"groupby":["g"]},{"calculate":"indexof(['WT','AD','ADi'],datum.g)+1+[0,-0.17,0.14,-0.07,0.2,-0.2,0.07,-0.12,0.17,-0.02,0.1,-0.19,0.19,-0.1,0.02,-0.14,0.12,-0.05,0.05,-0.21,0.21,-0.08,0.15,-0.15][(datum.r-1)%24]","as":"p"},{"filter":"datum.v>datum.m"}],
"mark":{"type":"point","shape":"circle","filled":false,"strokeWidth":1,"size":14,"opacity":1},"encoding":{"x":{"field":"p","type":"quantitative"},"y":{"field":"v","type":"quantitative"},"stroke":{"field":"g","type":"nominal","scale":{"domain":["WT","AD","ADi"],"range":["#b3b3b3","#e3959c","#8fbbdf"]},"legend":null}}},
{"data":{"name":"edot"},"transform":[{"lookup":"g","from":{"data":{"name":"ebar"},"key":"g","fields":["m"]}},{"window":[{"op":"row_number","as":"r"}],"groupby":["g"]},{"calculate":"indexof(['WT','AD','ADi'],datum.g)+1+[0,-0.17,0.14,-0.07,0.2,-0.2,0.07,-0.12,0.17,-0.02,0.1,-0.19,0.19,-0.1,0.02,-0.14,0.12,-0.05,0.05,-0.21,0.21,-0.08,0.15,-0.15][(datum.r-1)%24]","as":"p"},{"filter":"datum.v<=datum.m"}],
"mark":{"type":"circle","color":"white","size":10,"opacity":1},"encoding":{"x":{"field":"p","type":"quantitative"},"y":{"field":"v","type":"quantitative"}}},
{"data":{"values":[{"x":0.375,"lo":0,"hi":600}]},"mark":{"type":"rule","color":"#111111","strokeWidth":1.3},"encoding":{"x":{"field":"x","type":"quantitative"},"y":{"field":"lo","type":"quantitative"},"y2":{"field":"hi"}}},
{"data":{"name":"esig"},"mark":{"type":"rule","color":"#222222","strokeWidth":1.4},"encoding":{"x":{"field":"x1","type":"quantitative"},"x2":{"field":"x2"},"y":{"field":"y","type":"quantitative"}}},
{"data":{"name":"esig"},"transform":[{"calculate":"(datum.x1+datum.x2)/2","as":"mx"}],"mark":{"type":"text","fontSize":9,"baseline":"middle"},"encoding":{"x":{"field":"mx","type":"quantitative"},"y":{"field":"ty","type":"quantitative"},"text":{"field":"lab"}}}
]},
{"data":{"values":[{"x":-0.228,"y":1.029,"lab":"e"}]},"mark":{"type":"text","fontSize":16,"fontWeight":"bold","align":"left","baseline":"alphabetic","color":"#000000"},"encoding":{"x":{"field":"x","type":"quantitative","scale":{"domain":[0,1],"nice":false,"zero":false},"axis":null},"y":{"field":"y","type":"quantitative","scale":{"domain":[0,1],"nice":false,"zero":false},"axis":null},"text":{"field":"lab"}}}
]},
{"width":20,"height":10,"data":{"values":[]},"mark":{"type":"point","opacity":0}},
{"width":133,"height":220,"layer":[
{"data":{"name":"fband"},"transform":[{"calculate":"datum.g=='WT'?0:datum.g=='AD'?-135:-260","as":"o"},{"calculate":"datum.lo+datum.o","as":"y0"},{"calculate":"datum.hi+datum.o","as":"y1"}],"mark":{"type":"rect","opacity":0.85},
"encoding":{"x":{"field":"t0","type":"quantitative","scale":{"domain":[0,2.11],"nice":false,"zero":false},"axis":null},"x2":{"field":"t1"},"y":{"field":"y0","type":"quantitative","scale":{"domain":[-292,74.5],"nice":false,"zero":false},"axis":null},"y2":{"field":"y1"},
"color":{"field":"g","type":"nominal","scale":{"domain":["WT","AD","ADi"],"range":["#a9a9a9","#c0323a","#2a74b5"]},"legend":null}}},
{"data":{"name":"fsp"},"transform":[{"calculate":"datum.g=='WT'?0:datum.g=='AD'?-135:-260","as":"o"},{"calculate":"(datum.g=='WT'?-2:datum.g=='AD'?0:6)+datum.o","as":"y0"},{"calculate":"datum.hi+datum.o","as":"y1"}],"mark":{"type":"rule","strokeWidth":0.9},
"encoding":{"x":{"field":"t","type":"quantitative","axis":null},"y":{"field":"y0","type":"quantitative","axis":null},"y2":{"field":"y1"},"color":{"field":"g","type":"nominal","legend":null}}},
{"data":{"name":"ftr"},"transform":[{"calculate":"datum.v+(datum.g=='WT'?0:datum.g=='AD'?-135:-260)","as":"y"}],"mark":{"type":"line","strokeWidth":1.1},
"encoding":{"x":{"field":"t","type":"quantitative","axis":null},"y":{"field":"y","type":"quantitative","axis":null},"detail":{"field":"id"},"color":{"field":"g","type":"nominal","legend":null}}},
{"data":{"values":[{"t0":1.773,"t1":1.773,"v0":-77,"v1":-97},{"t0":1.773,"t1":1.973,"v0":-97,"v1":-97}]},"mark":{"type":"rule","color":"#111111","strokeWidth":1.3},"encoding":{"x":{"field":"t0","type":"quantitative","axis":null},"x2":{"field":"t1"},"y":{"field":"v0","type":"quantitative","axis":null},"y2":{"field":"v1"}}},
{"data":{"values":[{"t":1.714,"y":-86.7,"lab":"20 mV"}]},"mark":{"type":"text","fontSize":8.5,"align":"right","baseline":"middle"},"encoding":{"x":{"field":"t","type":"quantitative","axis":null},"y":{"field":"y","type":"quantitative","axis":null},"text":{"field":"lab"}}},
{"data":{"values":[{"t":1.87,"y":-107,"lab":"0.2 s"}]},"mark":{"type":"text","fontSize":8.5,"baseline":"middle"},"encoding":{"x":{"field":"t","type":"quantitative","axis":null},"y":{"field":"y","type":"quantitative","axis":null},"text":{"field":"lab"}}},
{"data":{"name":"ftext"},"mark":{"type":"text","fontSize":9,"baseline":"middle"},"encoding":{"x":{"field":"t","type":"quantitative","axis":null},"y":{"field":"y","type":"quantitative","axis":null},"text":{"field":"lab"}}},
{"data":{"values":[{"t":-0.048,"y":87.8,"lab":"f"}]},"mark":{"type":"text","fontSize":16,"fontWeight":"bold","align":"left","baseline":"alphabetic","color":"#000000"},"encoding":{"x":{"field":"t","type":"quantitative","axis":null},"y":{"field":"y","type":"quantitative","axis":null},"text":{"field":"lab"}}}
]},
{"width":48,"height":10,"data":{"values":[]},"mark":{"type":"point","opacity":0}},
{"width":191,"height":180,"resolve":{"scale":{"x":"independent","y":"independent"},"axis":{"x":"independent","y":"independent"}},"layer":[
{"layer":[
{"data":{"name":"gdat"},"mark":{"type":"line","strokeWidth":2},
"encoding":{"x":{"field":"x","type":"quantitative","scale":{"domain":[0,251.3],"nice":false,"zero":false},"axis":{"labels":false,"ticks":false,"title":"current injected (pA)","titlePadding":22}},
"y":{"field":"m","type":"quantitative","scale":{"domain":[0,121.35],"nice":false,"zero":false},"axis":{"labels":false,"ticks":false,"title":"AP frequency (Hz)","titlePadding":23}},
"color":{"field":"g","type":"nominal","scale":{"domain":["WT","AD","ADi"],"range":["#808080","#c1353c","#1b67a6"]},"legend":{"orient":"none","legendX":5,"legendY":-1,"title":null,"symbolType":"stroke","symbolStrokeWidth":2.5,"symbolSize":220,"rowPadding":3,"labelFontSize":9.5,"labelExpr":"datum.label=='WT'?'PV-Cre + mCherry + CNO':datum.label=='AD'?'APP/PS1-PV-Cre + mCherry + CNO':'APP/PS1-PV-Cre + hM4Di + CNO'"}}}},
{"data":{"name":"gdat"},"mark":{"type":"rule","strokeWidth":1.4},"encoding":{"x":{"field":"x","type":"quantitative"},"y":{"field":"lo","type":"quantitative"},"y2":{"field":"hi"},"color":{"field":"g","type":"nominal"}}},
{"data":{"name":"gdat"},"transform":[{"fold":["lo","hi"],"as":["w","e"]}],"mark":{"type":"tick","orient":"horizontal","size":7,"thickness":1.4},"encoding":{"x":{"field":"x","type":"quantitative"},"y":{"field":"e","type":"quantitative"},"color":{"field":"g","type":"nominal"}}},
{"data":{"name":"gdat"},"mark":{"type":"circle","size":38,"opacity":1},"encoding":{"x":{"field":"x","type":"quantitative"},"y":{"field":"m","type":"quantitative"},"color":{"field":"g","type":"nominal"}}},
{"data":{"name":"gbr"},"mark":{"type":"line","color":"#111111","strokeWidth":1.3},"encoding":{"x":{"field":"x","type":"quantitative"},"y":{"field":"y","type":"quantitative"},"detail":{"field":"id"},"order":{"field":"o"}}},
{"data":{"values":[{"x":273,"y":78,"lab":"*"},{"x":290,"y":76,"lab":"**"}]},"mark":{"type":"text","fontSize":12,"baseline":"middle","dy":3},"encoding":{"x":{"field":"x","type":"quantitative"},"y":{"field":"y","type":"quantitative"},"text":{"field":"lab"}}},
{"data":{"name":"gyticks"},"transform":[{"calculate":"0","as":"x0"}],"mark":{"type":"tick","orient":"horizontal","size":4,"thickness":1.2,"color":"#111111","xOffset":-2},"encoding":{"x":{"field":"x0","type":"quantitative"},"y":{"field":"v","type":"quantitative"}}},
{"data":{"name":"gyticks"},"transform":[{"calculate":"0","as":"x0"}],"mark":{"type":"text","align":"right","baseline":"middle","dx":-6,"fontSize":9},"encoding":{"x":{"field":"x0","type":"quantitative"},"y":{"field":"v","type":"quantitative"},"text":{"field":"v"}}},
{"data":{"name":"gxticks"},"transform":[{"calculate":"0","as":"y0"}],"mark":{"type":"tick","orient":"vertical","size":4,"thickness":1.2,"color":"#111111","yOffset":2},"encoding":{"x":{"field":"v","type":"quantitative"},"y":{"field":"y0","type":"quantitative"}}},
{"data":{"name":"gxticks"},"transform":[{"filter":"datum.v%50==0"},{"calculate":"0","as":"y0"}],"mark":{"type":"text","align":"center","baseline":"top","dy":6,"fontSize":9},"encoding":{"x":{"field":"v","type":"quantitative"},"y":{"field":"y0","type":"quantitative"},"text":{"field":"v"}}}
]},
{"data":{"values":[{"x":-0.162,"y":1.033,"lab":"g"}]},"mark":{"type":"text","fontSize":16,"fontWeight":"bold","align":"left","baseline":"alphabetic","color":"#000000"},"encoding":{"x":{"field":"x","type":"quantitative","scale":{"domain":[0,1],"nice":false,"zero":false},"axis":null},"y":{"field":"y","type":"quantitative","scale":{"domain":[0,1],"nice":false,"zero":false},"axis":null},"text":{"field":"lab"}}}
]}
]},
{"spacing":0,"bounds":"flush","resolve":{"scale":{"color":"independent","stroke":"independent"},"legend":{"color":"independent","stroke":"independent"}},
"hconcat":[
{"width":270,"height":156,"layer":[
{"data":{"name":"htr"},"transform":[{"calculate":"datum.a+(datum.g=='WT'?0:datum.g=='AD'?-192.6:-404.4)","as":"y"}],"mark":{"type":"line","strokeWidth":1.5},
"encoding":{"x":{"field":"t","type":"quantitative","scale":{"domain":[-900,1800],"nice":false,"zero":false},"axis":null},"y":{"field":"y","type":"quantitative","scale":{"domain":[-600,93.3],"nice":false,"zero":false},"axis":null},"color":{"field":"g","type":"nominal","scale":{"domain":["WT","AD","ADi"],"range":["#8e8e8e","#c0343b","#3b73b9"]},"legend":null}}},
{"data":{"name":"hlab"},"transform":[{"filter":"datum.ln==1"},{"calculate":"-90","as":"x"}],"mark":{"type":"text","fontSize":9,"align":"right","baseline":"middle"},"encoding":{"x":{"field":"x","type":"quantitative","axis":null},"y":{"field":"y","type":"quantitative","axis":null},"text":{"field":"t"}}},
{"data":{"name":"hlab"},"transform":[{"filter":"datum.ln==2"},{"calculate":"-90","as":"x"}],"mark":{"type":"text","fontSize":9,"align":"right","baseline":"middle","fontStyle":"italic"},"encoding":{"x":{"field":"x","type":"quantitative","axis":null},"y":{"field":"y","type":"quantitative","axis":null},"text":{"field":"t"}}},
{"data":{"values":[{"t0":1490,"t1":1490,"v0":-493,"v1":-533},{"t0":1490,"t1":1690,"v0":-533,"v1":-533}]},"mark":{"type":"rule","color":"#111111","strokeWidth":1.3},"encoding":{"x":{"field":"t0","type":"quantitative","axis":null},"x2":{"field":"t1"},"y":{"field":"v0","type":"quantitative","axis":null},"y2":{"field":"v1"}}},
{"data":{"values":[{"t":1450,"y":-511,"lab":"40 pA"}]},"mark":{"type":"text","fontSize":9.5,"align":"right","baseline":"middle"},"encoding":{"x":{"field":"t","type":"quantitative","axis":null},"y":{"field":"y","type":"quantitative","axis":null},"text":{"field":"lab"}}},
{"data":{"values":[{"t":1617,"y":-567,"lab":"200 ms"}]},"mark":{"type":"text","fontSize":9.5,"baseline":"middle"},"encoding":{"x":{"field":"t","type":"quantitative","axis":null},"y":{"field":"y","type":"quantitative","axis":null},"text":{"field":"lab"}}},
{"data":{"values":[{"t":-900,"y":155.5,"lab":"h"}]},"mark":{"type":"text","fontSize":16,"fontWeight":"bold","align":"left","baseline":"alphabetic","color":"#000000"},"encoding":{"x":{"field":"t","type":"quantitative","axis":null},"y":{"field":"y","type":"quantitative","axis":null},"text":{"field":"lab"}}}
]},
{"width":70,"height":10,"data":{"values":[]},"mark":{"type":"point","opacity":0}},
{"width":145,"height":116,"resolve":{"scale":{"x":"independent","y":"independent"},"axis":{"x":"independent","y":"independent"}},"layer":[
{"layer":[
{"data":{"name":"ibar"},"transform":[{"calculate":"indexof(['WT','AD','ADi'],datum.g)+1","as":"p"}],"mark":{"type":"bar","size":24,"orient":"vertical"},
"encoding":{"x":{"field":"p","type":"quantitative","scale":{"domain":[0.416,3.675],"nice":false,"zero":false},"axis":{"values":[1,2,3],"labelExpr":"datum.value==1?['PV-Cre','+ mCherry','+ CNO']:datum.value==2?['APP/PS1-','PV-Cre','+ mCherry','+ CNO']:['APP/PS1-','PV-Cre','+ hM4Di','+ CNO']","title":null,"ticks":false,"labelPadding":4,"labelOverlap":false}},
"y":{"field":"m","type":"quantitative","stack":null,"scale":{"domain":[0,1.505],"nice":false,"zero":false},"axis":{"labels":false,"ticks":false,"title":"sIPSC frequency (Hz)","titlePadding":18}},
"color":{"field":"g","type":"nominal","scale":{"domain":["WT","AD","ADi"],"range":["#a6a6a6","#b22b32","#0d5a97"]},"legend":null}}},
{"data":{"name":"ibar"},"transform":[{"calculate":"indexof(['WT','AD','ADi'],datum.g)+1","as":"p"}],"mark":{"type":"rule","color":"#111111","strokeWidth":1.5},"encoding":{"x":{"field":"p","type":"quantitative"},"y":{"field":"lo","type":"quantitative"},"y2":{"field":"hi"}}},
{"data":{"name":"ibar"},"transform":[{"calculate":"indexof(['WT','AD','ADi'],datum.g)+1","as":"p"},{"fold":["lo","hi"],"as":["w","e"]}],"mark":{"type":"tick","orient":"horizontal","color":"#111111","size":12,"thickness":1.5},"encoding":{"x":{"field":"p","type":"quantitative"},"y":{"field":"e","type":"quantitative"}}},
{"data":{"name":"idot"},"transform":[{"lookup":"g","from":{"data":{"name":"ibar"},"key":"g","fields":["m"]}},{"window":[{"op":"row_number","as":"r"}],"groupby":["g"]},{"calculate":"indexof(['WT','AD','ADi'],datum.g)+1+[0,-0.17,0.14,-0.07,0.2,-0.2,0.07,-0.12,0.17,-0.02,0.1,-0.19,0.19,-0.1,0.02,-0.14,0.12,-0.05,0.05,-0.21,0.21,-0.08,0.15,-0.15][(datum.r-1)%24]","as":"p"},{"filter":"datum.v>datum.m"}],
"mark":{"type":"point","shape":"circle","filled":false,"strokeWidth":1,"size":14,"opacity":1},"encoding":{"x":{"field":"p","type":"quantitative"},"y":{"field":"v","type":"quantitative"},"stroke":{"field":"g","type":"nominal","scale":{"domain":["WT","AD","ADi"],"range":["#b3b3b3","#e3959c","#8fbbdf"]},"legend":null}}},
{"data":{"name":"idot"},"transform":[{"lookup":"g","from":{"data":{"name":"ibar"},"key":"g","fields":["m"]}},{"window":[{"op":"row_number","as":"r"}],"groupby":["g"]},{"calculate":"indexof(['WT','AD','ADi'],datum.g)+1+[0,-0.17,0.14,-0.07,0.2,-0.2,0.07,-0.12,0.17,-0.02,0.1,-0.19,0.19,-0.1,0.02,-0.14,0.12,-0.05,0.05,-0.21,0.21,-0.08,0.15,-0.15][(datum.r-1)%24]","as":"p"},{"filter":"datum.v<=datum.m"}],
"mark":{"type":"circle","color":"white","size":10,"opacity":1},"encoding":{"x":{"field":"p","type":"quantitative"},"y":{"field":"v","type":"quantitative"}}},
{"data":{"name":"iticks"},"transform":[{"calculate":"0.416","as":"x0"}],"mark":{"type":"tick","orient":"horizontal","size":4,"thickness":1.2,"color":"#111111","xOffset":-2},"encoding":{"x":{"field":"x0","type":"quantitative"},"y":{"field":"v","type":"quantitative"}}},
{"data":{"name":"iticks"},"transform":[{"calculate":"0.416","as":"x0"}],"mark":{"type":"text","align":"right","baseline":"middle","dx":-6,"fontSize":9},"encoding":{"x":{"field":"x0","type":"quantitative"},"y":{"field":"v","type":"quantitative"},"text":{"field":"v","format":".1f"}}},
{"data":{"name":"isig"},"mark":{"type":"rule","color":"#222222","strokeWidth":1.4},"encoding":{"x":{"field":"x1","type":"quantitative"},"x2":{"field":"x2"},"y":{"field":"y","type":"quantitative"}}},
{"data":{"name":"isig"},"transform":[{"calculate":"(datum.x1+datum.x2)/2","as":"mx"}],"mark":{"type":"text","fontSize":12,"baseline":"middle","dy":3},"encoding":{"x":{"field":"mx","type":"quantitative"},"y":{"field":"ty","type":"quantitative"},"text":{"field":"lab"}}}
]},
{"data":{"values":[{"x":-0.172,"y":1.121,"lab":"i"}]},"mark":{"type":"text","fontSize":16,"fontWeight":"bold","align":"left","baseline":"alphabetic","color":"#000000"},"encoding":{"x":{"field":"x","type":"quantitative","scale":{"domain":[0,1],"nice":false,"zero":false},"axis":null},"y":{"field":"y","type":"quantitative","scale":{"domain":[0,1],"nice":false,"zero":false},"axis":null},"text":{"field":"lab"}}}
]},
{"width":82,"height":10,"data":{"values":[]},"mark":{"type":"point","opacity":0}},
{"width":163,"height":116,"resolve":{"scale":{"x":"independent","y":"independent"},"axis":{"x":"independent","y":"independent"}},"layer":[
{"layer":[
{"data":{"name":"jbar"},"transform":[{"calculate":"indexof(['WT','AD','ADi'],datum.g)+1","as":"p"}],"mark":{"type":"bar","size":27,"orient":"vertical"},
"encoding":{"x":{"field":"p","type":"quantitative","scale":{"domain":[0.311,3.61],"nice":false,"zero":false},"axis":{"values":[1,2,3],"labelExpr":"datum.value==1?['PV-Cre','+ mCherry','+ CNO']:datum.value==2?['APP/PS1-','PV-Cre','+ mCherry','+ CNO']:['APP/PS1-','PV-Cre','+ hM4Di','+ CNO']","title":null,"ticks":false,"labelPadding":4,"labelOverlap":false}},
"y":{"field":"m","type":"quantitative","stack":null,"scale":{"domain":[0,53.04],"nice":false,"zero":false},"axis":{"labels":false,"ticks":false,"title":"sIPSC amplitude (pA)","titleY":61.5,"titlePadding":18,"domain":false}},
"color":{"field":"g","type":"nominal","scale":{"domain":["WT","AD","ADi"],"range":["#666666","#b22b32","#0d5a97"]},"legend":null}}},
{"data":{"name":"jbar"},"transform":[{"calculate":"indexof(['WT','AD','ADi'],datum.g)+1","as":"p"}],"mark":{"type":"rule","color":"#111111","strokeWidth":1.5},"encoding":{"x":{"field":"p","type":"quantitative"},"y":{"field":"lo","type":"quantitative"},"y2":{"field":"hi"}}},
{"data":{"name":"jbar"},"transform":[{"calculate":"indexof(['WT','AD','ADi'],datum.g)+1","as":"p"},{"fold":["lo","hi"],"as":["w","e"]}],"mark":{"type":"tick","orient":"horizontal","color":"#111111","size":13,"thickness":1.5},"encoding":{"x":{"field":"p","type":"quantitative"},"y":{"field":"e","type":"quantitative"}}},
{"data":{"name":"jdot"},"transform":[{"lookup":"g","from":{"data":{"name":"jbar"},"key":"g","fields":["m"]}},{"window":[{"op":"row_number","as":"r"}],"groupby":["g"]},{"calculate":"indexof(['WT','AD','ADi'],datum.g)+1+[0,-0.17,0.14,-0.07,0.2,-0.2,0.07,-0.12,0.17,-0.02,0.1,-0.19,0.19,-0.1,0.02,-0.14,0.12,-0.05,0.05,-0.21,0.21,-0.08,0.15,-0.15][(datum.r-1)%24]","as":"p"},{"filter":"datum.v>datum.m"}],
"mark":{"type":"point","shape":"circle","filled":false,"strokeWidth":1,"size":14,"opacity":1},"encoding":{"x":{"field":"p","type":"quantitative"},"y":{"field":"v","type":"quantitative"},"stroke":{"field":"g","type":"nominal","scale":{"domain":["WT","AD","ADi"],"range":["#b3b3b3","#e3959c","#8fbbdf"]},"legend":null}}},
{"data":{"name":"jdot"},"transform":[{"lookup":"g","from":{"data":{"name":"jbar"},"key":"g","fields":["m"]}},{"window":[{"op":"row_number","as":"r"}],"groupby":["g"]},{"calculate":"indexof(['WT','AD','ADi'],datum.g)+1+[0,-0.17,0.14,-0.07,0.2,-0.2,0.07,-0.12,0.17,-0.02,0.1,-0.19,0.19,-0.1,0.02,-0.14,0.12,-0.05,0.05,-0.21,0.21,-0.08,0.15,-0.15][(datum.r-1)%24]","as":"p"},{"filter":"datum.v<=datum.m"}],
"mark":{"type":"circle","color":"white","size":10,"opacity":1},"encoding":{"x":{"field":"p","type":"quantitative"},"y":{"field":"v","type":"quantitative"}}},
{"data":{"values":[{"x":0.311,"lo":0,"hi":50}]},"mark":{"type":"rule","color":"#111111","strokeWidth":1.3},"encoding":{"x":{"field":"x","type":"quantitative"},"y":{"field":"lo","type":"quantitative"},"y2":{"field":"hi"}}},
{"data":{"name":"jticks"},"transform":[{"calculate":"0.311","as":"x0"}],"mark":{"type":"tick","orient":"horizontal","size":4,"thickness":1.2,"color":"#111111","xOffset":-2},"encoding":{"x":{"field":"x0","type":"quantitative"},"y":{"field":"v","type":"quantitative"}}},
{"data":{"name":"jticks"},"transform":[{"calculate":"0.311","as":"x0"}],"mark":{"type":"text","align":"right","baseline":"middle","dx":-6,"fontSize":9},"encoding":{"x":{"field":"x0","type":"quantitative"},"y":{"field":"v","type":"quantitative"},"text":{"field":"v"}}},
{"data":{"name":"jsig"},"mark":{"type":"rule","color":"#222222","strokeWidth":1.4},"encoding":{"x":{"field":"x1","type":"quantitative"},"x2":{"field":"x2"},"y":{"field":"y","type":"quantitative"}}},
{"data":{"name":"jsig"},"transform":[{"calculate":"(datum.x1+datum.x2)/2","as":"mx"}],"mark":{"type":"text","fontSize":9,"baseline":"middle"},"encoding":{"x":{"field":"mx","type":"quantitative"},"y":{"field":"ty","type":"quantitative"},"text":{"field":"lab"}}}
]},
{"data":{"values":[{"x":-0.166,"y":1.138,"lab":"j"}]},"mark":{"type":"text","fontSize":16,"fontWeight":"bold","align":"left","baseline":"alphabetic","color":"#000000"},"encoding":{"x":{"field":"x","type":"quantitative","scale":{"domain":[0,1],"nice":false,"zero":false},"axis":null},"y":{"field":"y","type":"quantitative","scale":{"domain":[0,1],"nice":false,"zero":false},"axis":null},"text":{"field":"lab"}}}
]}
]}
]}
]
}
